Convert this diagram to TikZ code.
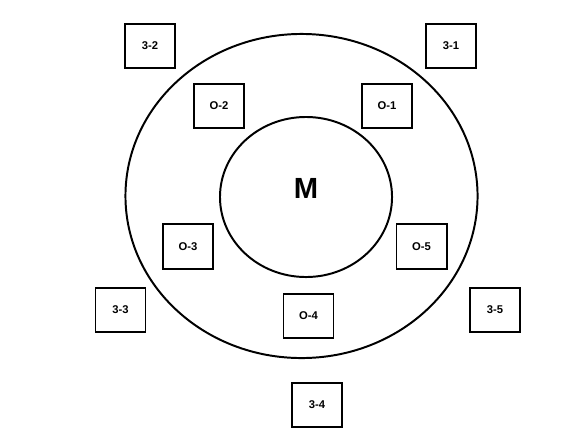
\documentclass[tikz,border=0pt]{standalone}
\usepackage{fontspec}
\setmainfont{Liberation Sans}
\usetikzlibrary{positioning,shapes.geometric}
\tikzset{
	ring/.style={draw, ellipse, line width=1.4pt, inner sep=0pt},
	cell/.style={draw, line width=1.4pt, minimum width=1.25cm, minimum height=1.12cm, font=\footnotesize\bfseries, inner sep=0pt},
}
\begin{document}
\begin{tikzpicture}[x=0.025cm, y=-0.025cm]
	\useasboundingbox (0,0) rectangle (582,429);
	\node[ring, minimum width=8.8cm, minimum height=8.1cm] (outer) at (301.5,196) {};
	\node[ring, minimum width=4.3cm, minimum height=4cm] (inner) at (306,197) {};
	\node[font=\huge\bfseries] (m) at (306,188) {M};
	\foreach \n/\x/\y/\t in {t1/451/46/3-1, t2/150/46/3-2, t3/120.5/310/3-3, t4/317/405/3-4, t5/495/310/3-5,
		o1/387/106/O-1, o2/219/106/O-2, o3/188/246.5/O-3, o4/308.5/316/O-4, o5/421.5/246.5/O-5}
		\node[cell] (\n) at (\x,\y) {\t};
\end{tikzpicture}
\end{document}
